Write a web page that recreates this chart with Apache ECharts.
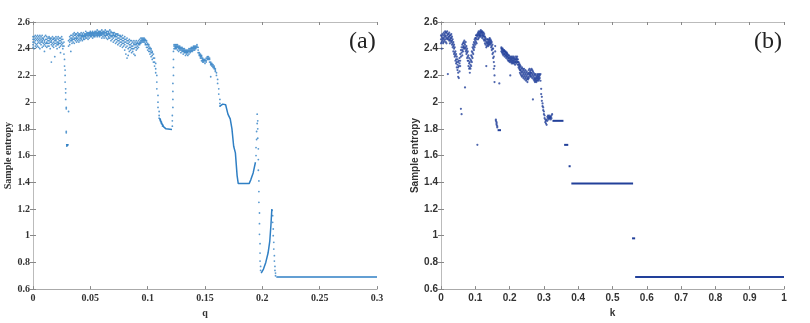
<!DOCTYPE html>
<html>
<head>
<meta charset="utf-8">
<script src="https://cdn.jsdelivr.net/npm/echarts@6/dist/echarts.min.js"></script>
<style>
  html, body { margin: 0; padding: 0; background: #fff; }
  #dom { width: 810px; height: 323px; }
</style>
</head>
<body>
<div id="dom"></div>
<script>
// (a) sample entropy vs q : each row is [q, entropy, entropy, ...]
var qRows = [
  [0.000, 2.47, 2.43, 2.49, 2.41, 2.45], [0.001, 2.45, 2.49, 2.40, 2.47], [0.002, 2.48, 2.44, 2.42, 2.50, 2.46],
  [0.003, 2.43, 2.47, 2.49, 2.41], [0.004, 2.46, 2.50, 2.44, 2.48, 2.42], [0.005, 2.49, 2.45, 2.41, 2.47],
  [0.006, 2.44, 2.48, 2.46, 2.50, 2.40], [0.007, 2.47, 2.43, 2.49, 2.45], [0.008, 2.45, 2.41, 2.48, 2.50, 2.46],
  [0.009, 2.48, 2.44, 2.42, 2.47], [0.010, 2.43, 2.49, 2.46, 2.45, 2.38], [0.011, 2.47, 2.44, 2.50, 2.42],
  [0.012, 2.49, 2.45, 2.41, 2.47, 2.44], [0.013, 2.44, 2.48, 2.46, 2.42], [0.014, 2.46, 2.42, 2.49, 2.44, 2.48],
  [0.015, 2.48, 2.45, 2.40, 2.47], [0.016, 2.45, 2.30, 2.43, 2.48, 2.46], [0.017, 2.42, 2.47, 2.44, 2.49],
  [0.018, 2.47, 2.43, 2.45, 2.41, 2.48], [0.019, 2.44, 2.48, 2.34, 2.46], [0.020, 2.46, 2.42, 2.49, 2.44, 2.47],
  [0.021, 2.48, 2.45, 2.43, 2.40], [0.022, 2.43, 2.47, 2.45, 2.49, 2.44], [0.023, 2.46, 2.41, 2.48, 2.44],
  [0.024, 2.48, 2.44, 2.46, 2.42, 2.37], [0.025, 2.45, 2.47, 2.43, 2.49], [0.026, 2.44, 2.40, 2.47, 2.42],
  [0.027, 2.42, 2.36, 2.45], [0.0275, 2.32, 2.27], [0.028, 2.24, 2.20, 2.15], [0.0285, 2.10, 2.07, 2.02],
  [0.029, 1.96, 1.95, 1.77, 1.78], [0.0295, 1.68, 1.68, 1.67], [0.030, 1.68, 1.68], [0.0305, 1.68],
  [0.031, 1.93, 2.42, 2.46], [0.032, 2.45, 2.49, 2.43, 2.47], [0.033, 2.48, 2.38, 2.46, 2.50],
  [0.034, 2.46, 2.50, 2.44, 2.48, 2.47], [0.035, 2.49, 2.45, 2.51, 2.47], [0.036, 2.47, 2.50, 2.44, 2.48, 2.52],
  [0.037, 2.50, 2.46, 2.48, 2.51], [0.038, 2.48, 2.51, 2.45, 2.49, 2.47], [0.039, 2.46, 2.50, 2.48, 2.52],
  [0.040, 2.49, 2.47, 2.51, 2.45, 2.50], [0.041, 2.51, 2.48, 2.46, 2.50], [0.042, 2.47, 2.50, 2.52, 2.48, 2.49],
  [0.043, 2.50, 2.46, 2.49, 2.51], [0.044, 2.48, 2.52, 2.50, 2.47, 2.49], [0.045, 2.51, 2.49, 2.47, 2.50],
  [0.046, 2.49, 2.51, 2.53, 2.48, 2.50], [0.047, 2.50, 2.48, 2.52, 2.51], [0.048, 2.52, 2.49, 2.50, 2.47, 2.51],
  [0.049, 2.50, 2.52, 2.48, 2.51], [0.050, 2.51, 2.49, 2.53, 2.50, 2.52], [0.051, 2.49, 2.52, 2.50, 2.51],
  [0.052, 2.52, 2.50, 2.48, 2.53, 2.51], [0.053, 2.50, 2.52, 2.51, 2.49], [0.054, 2.51, 2.53, 2.49, 2.52, 2.50],
  [0.055, 2.53, 2.50, 2.52, 2.51], [0.056, 2.50, 2.52, 2.54, 2.49, 2.51], [0.057, 2.52, 2.50, 2.51, 2.53],
  [0.058, 2.51, 2.53, 2.49, 2.52, 2.50], [0.059, 2.53, 2.51, 2.50, 2.52], [0.060, 2.50, 2.52, 2.54, 2.51, 2.48],
  [0.061, 2.52, 2.49, 2.51, 2.53], [0.062, 2.51, 2.53, 2.50, 2.52, 2.48], [0.063, 2.49, 2.52, 2.54, 2.50],
  [0.064, 2.52, 2.50, 2.48, 2.53, 2.51], [0.065, 2.50, 2.53, 2.51, 2.47], [0.066, 2.53, 2.49, 2.51, 2.52, 2.48],
  [0.067, 2.51, 2.54, 2.48, 2.50], [0.068, 2.49, 2.52, 2.46, 2.50, 2.53], [0.069, 2.52, 2.47, 2.50, 2.49],
  [0.070, 2.48, 2.51, 2.45, 2.50, 2.52], [0.071, 2.50, 2.46, 2.49, 2.52], [0.072, 2.47, 2.51, 2.44, 2.49, 2.50],
  [0.073, 2.49, 2.45, 2.51, 2.47], [0.074, 2.46, 2.50, 2.43, 2.48, 2.51], [0.075, 2.48, 2.44, 2.50, 2.46],
  [0.076, 2.45, 2.49, 2.42, 2.47, 2.50], [0.077, 2.47, 2.43, 2.49, 2.45], [0.078, 2.44, 2.48, 2.41, 2.46, 2.50],
  [0.079, 2.46, 2.42, 2.48, 2.44], [0.080, 2.43, 2.47, 2.39, 2.45, 2.49], [0.081, 2.45, 2.41, 2.47, 2.36],
  [0.082, 2.42, 2.46, 2.33, 2.44, 2.48], [0.083, 2.44, 2.40, 2.46, 2.35], [0.084, 2.41, 2.45, 2.38, 2.43, 2.47],
  [0.085, 2.43, 2.39, 2.46, 2.41], [0.086, 2.40, 2.44, 2.42, 2.46, 2.37], [0.087, 2.42, 2.38, 2.45, 2.40],
  [0.088, 2.44, 2.40, 2.43, 2.46, 2.36], [0.089, 2.41, 2.45, 2.35, 2.43], [0.090, 2.43, 2.39, 2.46, 2.41, 2.44],
  [0.091, 2.42, 2.45, 2.40, 2.44], [0.092, 2.44, 2.41, 2.46, 2.43], [0.093, 2.45, 2.43, 2.47, 2.44],
  [0.094, 2.46, 2.44, 2.48, 2.45], [0.095, 2.47, 2.45, 2.48, 2.46], [0.096, 2.48, 2.46, 2.47, 2.45],
  [0.097, 2.47, 2.45, 2.48, 2.46], [0.098, 2.46, 2.44, 2.47, 2.43], [0.099, 2.45, 2.43, 2.46, 2.41],
  [0.100, 2.44, 2.41, 2.43, 2.39], [0.101, 2.42, 2.40, 2.38, 2.43], [0.102, 2.41, 2.38, 2.40, 2.36],
  [0.103, 2.39, 2.37, 2.40, 2.34], [0.104, 2.38, 2.35, 2.37, 2.32], [0.105, 2.36, 2.33, 2.30],
  [0.106, 2.33, 2.30, 2.27], [0.107, 2.29, 2.25, 2.22], [0.108, 2.20, 2.15, 2.10], [0.109, 2.05, 2.00, 1.96],
  [0.110, 1.93, 1.90, 1.88], [0.111, 1.87, 1.86], [0.112, 1.85, 1.84], [0.113, 1.83, 1.82],
  [0.1215, 1.82, 1.86, 1.90], [0.122, 1.96, 2.02, 2.08, 2.14], [0.1225, 2.20, 2.26, 2.32, 2.38],
  [0.123, 2.42, 2.40, 2.43], [0.124, 2.41, 2.43, 2.42, 2.40], [0.125, 2.42, 2.40, 2.43, 2.41],
  [0.126, 2.41, 2.43, 2.39, 2.42], [0.127, 2.40, 2.42, 2.41, 2.38], [0.128, 2.41, 2.39, 2.42, 2.40],
  [0.129, 2.39, 2.41, 2.40, 2.37], [0.130, 2.40, 2.38, 2.41, 2.39], [0.131, 2.38, 2.40, 2.36, 2.39],
  [0.132, 2.39, 2.37, 2.40, 2.38], [0.133, 2.37, 2.39, 2.35, 2.38], [0.134, 2.38, 2.36, 2.39, 2.37],
  [0.135, 2.37, 2.39, 2.35, 2.38], [0.136, 2.38, 2.40, 2.36, 2.39], [0.137, 2.39, 2.37, 2.40, 2.38],
  [0.138, 2.40, 2.38, 2.41, 2.39], [0.139, 2.39, 2.41, 2.38, 2.40], [0.140, 2.40, 2.42, 2.39, 2.41],
  [0.141, 2.41, 2.39, 2.42, 2.40], [0.142, 2.42, 2.40, 2.41], [0.143, 2.42, 2.41, 2.43],
  [0.144, 2.39, 2.41, 2.37], [0.145, 2.37, 2.35, 2.36], [0.146, 2.36, 2.34, 2.35, 2.33],
  [0.147, 2.35, 2.33, 2.34, 2.31], [0.148, 2.33, 2.31, 2.32, 2.30], [0.149, 2.32, 2.30, 2.31],
  [0.150, 2.31, 2.29, 2.32], [0.151, 2.31, 2.33, 2.30], [0.152, 2.33, 2.32, 2.34], [0.153, 2.34, 2.33, 2.32],
  [0.154, 2.32, 2.30, 2.33], [0.155, 2.29, 2.28, 2.30, 2.19], [0.156, 2.28, 2.27, 2.29],
  [0.157, 2.27, 2.26, 2.28], [0.158, 2.26, 2.25, 2.27], [0.159, 2.25, 2.23, 2.24], [0.160, 2.22, 2.20],
  [0.161, 2.17, 2.14], [0.162, 2.10, 2.06], [0.163, 2.02, 1.99, 1.97],
  [0.1945, 1.60, 1.66], [0.195, 1.72, 1.78], [0.1955, 1.84, 1.91], [0.196, 1.86, 1.80, 1.73],
  [0.1965, 1.65, 1.57, 1.49], [0.197, 1.41, 1.33, 1.25], [0.1975, 1.17, 1.09, 1.01],
  [0.198, 0.94, 0.87, 0.81], [0.1985, 0.77, 0.74],
  [0.2085, 1.19], [0.209, 1.15, 1.10], [0.2095, 1.05, 1.00], [0.210, 0.95, 0.90],
  [0.2105, 0.85, 0.81], [0.211, 0.77, 0.74], [0.2115, 0.72, 0.70]
];
// (a) smooth stretches, [q, entropy] polylines
var qLines = [
  [[0.1105, 1.88], [0.112, 1.845], [0.114, 1.815], [0.116, 1.80], [0.1212, 1.795]],
  [[0.163, 1.97], [0.1655, 1.985], [0.168, 1.98], [0.170, 1.91], [0.172, 1.875], [0.1735, 1.80], [0.175, 1.67],
   [0.1765, 1.62], [0.178, 1.45], [0.179, 1.39], [0.1885, 1.39], [0.190, 1.42], [0.192, 1.47], [0.194, 1.55]],
  [[0.199, 0.72], [0.201, 0.75], [0.203, 0.80], [0.205, 0.87], [0.2065, 0.96], [0.2075, 1.08], [0.2083, 1.20]],
  [[0.2122, 0.69], [0.300, 0.69]]
];

// (b) sample entropy vs k
var kRows = [
  [0.000, 2.47, 2.44, 2.50], [0.002, 2.49, 2.45, 2.40], [0.004, 2.46, 2.51, 2.48], [0.006, 2.50, 2.47, 2.44],
  [0.008, 2.48, 2.52, 2.45], [0.010, 2.51, 2.46, 2.49], [0.012, 2.47, 2.50, 2.53], [0.014, 2.49, 2.45, 2.52],
  [0.016, 2.52, 2.48, 2.44], [0.018, 2.50, 2.53, 2.47], [0.020, 2.48, 2.21, 2.51], [0.022, 2.51, 2.47, 2.49],
  [0.024, 2.49, 2.52, 2.46], [0.026, 2.47, 2.50, 2.44], [0.028, 2.50, 2.46, 2.48], [0.030, 2.48, 2.45, 2.51],
  [0.032, 2.46, 2.49, 2.43], [0.034, 2.44, 2.47, 2.41], [0.036, 2.42, 2.45, 2.38], [0.038, 2.40, 2.43, 2.36],
  [0.040, 2.37, 2.41, 2.34], [0.042, 2.35, 2.38, 2.31], [0.044, 2.32, 2.36, 2.29], [0.046, 2.30, 2.34, 2.26],
  [0.048, 2.28, 2.32, 2.24], [0.050, 2.30, 2.26, 2.22, 2.19], [0.052, 2.27, 2.31, 2.18], [0.054, 2.33, 2.29, 2.23],
  [0.056, 2.36, 2.31, 2.27], [0.058, 2.39, 2.34, 1.95], [0.060, 2.41, 2.37, 1.91], [0.062, 2.43, 2.39, 2.35],
  [0.064, 2.44, 2.41, 2.38], [0.066, 2.45, 2.42, 2.40], [0.068, 2.44, 2.41, 2.46], [0.070, 2.43, 2.40, 2.11],
  [0.072, 2.45, 2.41, 2.38], [0.074, 2.42, 2.39, 2.36], [0.076, 2.40, 2.37, 2.33], [0.078, 2.38, 2.34, 2.31],
  [0.080, 2.35, 2.31, 2.27], [0.082, 2.33, 2.29, 2.25], [0.084, 2.30, 2.26, 2.22], [0.086, 2.28, 2.25, 2.32],
  [0.088, 2.31, 2.27, 2.35], [0.090, 2.34, 2.30, 2.38], [0.092, 2.37, 2.33, 2.41], [0.094, 2.40, 2.36, 2.43],
  [0.096, 2.42, 2.39, 2.45], [0.098, 2.44, 2.41, 2.47], [0.100, 2.46, 2.43, 2.48], [0.102, 2.48, 2.45, 2.50],
  [0.104, 2.47, 2.50, 2.44], [0.106, 2.49, 2.51, 1.68], [0.108, 2.50, 2.47, 2.52], [0.110, 2.51, 2.48, 2.53],
  [0.112, 2.52, 2.49, 2.50], [0.114, 2.53, 2.50, 2.51], [0.116, 2.52, 2.54, 2.49], [0.118, 2.53, 2.50, 2.52],
  [0.120, 2.51, 2.53, 2.48], [0.122, 2.52, 2.49, 2.50], [0.124, 2.50, 2.47, 2.52], [0.126, 2.49, 2.46, 2.51],
  [0.128, 2.47, 2.44, 2.49], [0.130, 2.46, 2.43, 2.48], [0.132, 2.45, 2.41, 2.27], [0.134, 2.44, 2.47, 2.42],
  [0.136, 2.45, 2.43, 2.47], [0.138, 2.46, 2.44, 2.42], [0.140, 2.47, 2.45, 2.43], [0.142, 2.46, 2.44, 2.48],
  [0.144, 2.45, 2.43, 2.47], [0.146, 2.44, 2.46, 2.41], [0.148, 2.42, 2.45, 2.39], [0.150, 2.40, 2.43, 2.36],
  [0.152, 2.37, 2.33, 2.40], [0.154, 2.30, 2.25, 2.34], [0.156, 2.20, 2.15, 2.27], [0.158, 2.38, 2.42],
  [0.160, 1.87, 1.86], [0.162, 1.85, 1.84, 1.83], [0.164, 1.82, 1.81], [0.170, 2.14],
  [0.176, 2.40, 2.38, 2.41], [0.178, 2.39, 2.37, 2.40], [0.180, 2.38, 2.40, 2.36], [0.182, 2.37, 2.39, 2.35],
  [0.184, 2.38, 2.36, 2.39], [0.186, 2.36, 2.38, 2.34], [0.188, 2.37, 2.35, 2.38], [0.190, 2.35, 2.37, 2.33],
  [0.192, 2.36, 2.34, 2.37], [0.194, 2.34, 2.36, 2.32], [0.196, 2.35, 2.33, 2.31], [0.198, 2.33, 2.35, 2.31],
  [0.200, 2.34, 2.32, 2.30], [0.202, 2.33, 2.31, 2.20], [0.204, 2.32, 2.34, 2.30], [0.206, 2.31, 2.33, 2.29],
  [0.208, 2.32, 2.30, 2.34], [0.210, 2.33, 2.31, 2.29], [0.212, 2.32, 2.34, 2.30], [0.214, 2.31, 2.33, 2.29],
  [0.216, 2.30, 2.32, 2.28], [0.218, 2.32, 2.30, 2.34], [0.220, 2.33, 2.31, 2.29], [0.222, 2.32, 2.30, 2.34],
  [0.224, 2.30, 2.28, 2.32], [0.226, 2.28, 2.26, 2.30], [0.228, 2.27, 2.25, 2.29], [0.230, 2.26, 2.24, 2.28, 2.22],
  [0.232, 2.24, 2.27, 2.21], [0.234, 2.25, 2.23, 2.20], [0.236, 2.22, 2.26, 2.19], [0.238, 2.23, 2.20, 2.25],
  [0.240, 2.21, 2.24, 2.18], [0.242, 2.22, 2.19, 2.25], [0.244, 2.20, 2.23, 2.17], [0.246, 2.21, 2.18, 2.24],
  [0.248, 2.19, 2.22, 2.16], [0.250, 2.20, 2.17, 2.23], [0.252, 2.18, 2.21, 2.15], [0.254, 2.19, 2.22, 2.17],
  [0.256, 2.21, 2.18, 2.24], [0.258, 2.22, 2.20, 2.25], [0.260, 2.23, 2.21, 2.19], [0.262, 2.24, 2.22, 2.20],
  [0.264, 2.22, 2.25, 2.19], [0.266, 2.21, 2.24, 2.18], [0.268, 2.20, 2.23, 2.02], [0.270, 2.19, 2.22, 2.17],
  [0.272, 2.18, 2.21, 2.16], [0.274, 2.17, 2.20, 2.15], [0.276, 2.18, 2.16, 2.21], [0.278, 2.19, 2.17, 2.15],
  [0.280, 2.20, 2.18, 2.16], [0.282, 2.19, 2.17, 2.21], [0.284, 2.18, 2.20, 2.16], [0.286, 2.19, 2.21, 2.17],
  [0.288, 2.20, 2.18], [0.290, 2.21, 2.16], [0.292, 2.10, 2.06], [0.294, 2.04, 2.01], [0.296, 1.99, 1.97],
  [0.298, 1.96, 1.94], [0.300, 1.93, 1.91], [0.302, 1.90, 1.88], [0.304, 1.87, 1.85], [0.306, 1.84, 1.86],
  [0.308, 1.83, 1.87], [0.310, 1.86, 1.89], [0.312, 1.88, 1.90], [0.314, 1.89, 1.87], [0.316, 1.90, 1.88],
  [0.318, 1.88, 1.89], [0.320, 1.89, 1.87], [0.322, 1.90, 1.88], [0.324, 1.91]
];
// (b) flat stretches
var kLines = [
  [[0.165, 1.79], [0.175, 1.79]],
  [[0.325, 1.86], [0.357, 1.86]],
  [[0.359, 1.68], [0.371, 1.68]],
  [[0.372, 1.52], [0.378, 1.52]],
  [[0.380, 1.39], [0.560, 1.39]],
  [[0.557, 0.98], [0.566, 0.98]],
  [[0.566, 0.69], [1.000, 0.69]]
];

var colorA = '#2f7fc4';
var colorB = '#22409a';
var fontA = 'Liberation Serif';
var fontB = 'Liberation Sans';

function rowsToPoints(rows) {
  var pts = [];
  rows.forEach(function (r) {
    for (var i = 1; i < r.length; i++) pts.push([r[0], r[i]]);
  });
  return pts;
}

// bottom axis with labels + plain top axis, MATLAB box style
function xAxisPair(grid, font, xmax, xstep, name) {
  var base = {
    type: 'value', gridIndex: grid, min: 0, max: xmax, interval: xstep,
    splitLine: { show: false },
    axisTick: { show: true, inside: true, length: 3, lineStyle: { color: '#888' } }
  };
  return [
    Object.assign({}, base, {
      position: 'bottom',
      axisLine: { show: true, lineStyle: { color: '#aaa' } },
      axisLabel: { fontFamily: font, fontWeight: 'bold', fontSize: 10, color: '#333', margin: 4 },
      name: name, nameLocation: 'middle', nameGap: 16,
      nameTextStyle: { fontFamily: font, fontWeight: 'bold', fontSize: 10, color: '#333' }
    }),
    Object.assign({}, base, {
      position: 'top',
      axisLine: { show: true, lineStyle: { color: '#bbb' } },
      axisLabel: { show: false }
    })
  ];
}

function yAxisPair(grid, font) {
  var base = {
    type: 'value', gridIndex: grid, min: 0.6, max: 2.6, interval: 0.2,
    splitLine: { show: false },
    axisTick: { show: true, inside: true, length: 3, lineStyle: { color: '#888' } }
  };
  return [
    Object.assign({}, base, {
      position: 'left',
      axisLine: { show: true, lineStyle: { color: '#666' } },
      axisLabel: { fontFamily: font, fontWeight: 'bold', fontSize: 10, color: '#333', margin: 3 },
      name: 'Sample entropy', nameLocation: 'middle', nameGap: 20, nameRotate: 90,
      nameTextStyle: { fontFamily: font, fontWeight: 'bold', fontSize: 10, color: '#333' }
    }),
    Object.assign({}, base, {
      position: 'right',
      axisLine: { show: true, lineStyle: { color: '#bbb' } },
      axisLabel: { show: false }
    })
  ];
}

var series = [];
series.push({
  type: 'scatter', xAxisIndex: 0, yAxisIndex: 0, symbolSize: 1.8,
  itemStyle: { color: colorA }, data: rowsToPoints(qRows), silent: true
});
qLines.forEach(function (seg) {
  series.push({
    type: 'line', xAxisIndex: 0, yAxisIndex: 0, showSymbol: false,
    lineStyle: { color: colorA, width: 1.5 }, data: seg, silent: true
  });
});
series.push({
  type: 'scatter', xAxisIndex: 2, yAxisIndex: 2, symbolSize: 2.2,
  itemStyle: { color: colorB }, data: rowsToPoints(kRows), silent: true
});
kLines.forEach(function (seg) {
  series.push({
    type: 'line', xAxisIndex: 2, yAxisIndex: 2, showSymbol: false,
    lineStyle: { color: colorB, width: 2 }, data: seg, silent: true
  });
});

var myChart = echarts.init(document.getElementById('dom'));
myChart.setOption({
  animation: false,
  backgroundColor: '#fff',
  grid: [
    { left: 33, top: 22, width: 344, height: 270 },
    { left: 441, top: 22, width: 343, height: 270 }
  ],
  xAxis: xAxisPair(0, fontA, 0.3, 0.05, 'q').concat(xAxisPair(1, fontB, 1, 0.1, 'k')),
  yAxis: yAxisPair(0, fontA).concat(yAxisPair(1, fontB)),
  graphic: [
    { type: 'text', left: 349, top: 30, style: { text: '(a)', font: '24px "Liberation Serif"', fill: '#222' } },
    { type: 'text', left: 754, top: 30, style: { text: '(b)', font: '24px "Liberation Serif"', fill: '#222' } }
  ],
  series: series
});
</script>
</body>
</html>
